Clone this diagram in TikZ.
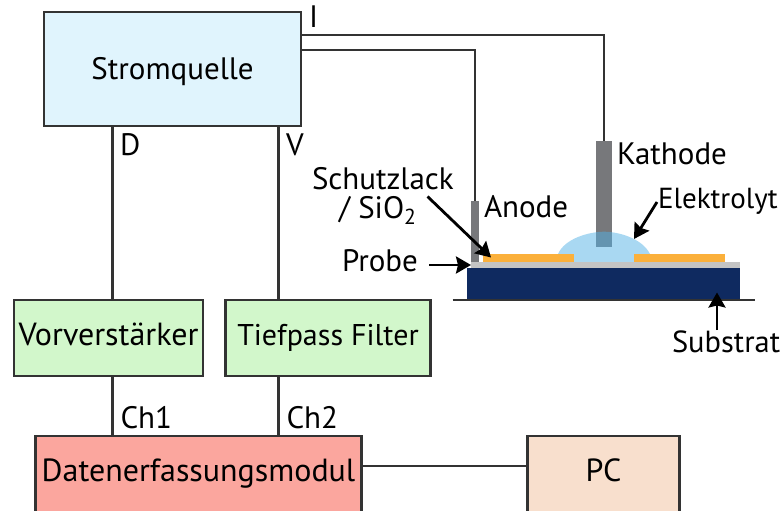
\documentclass[tikz,border=0pt]{standalone}
\usepackage{fontspec}
\setmainfont{PT Sans}
\usetikzlibrary{arrows.meta}
\definecolor{quelleblue}{HTML}{E0F4FD}
\definecolor{filtergreen}{HTML}{D2F7CB}
\definecolor{modulred}{HTML}{FBA69E}
\definecolor{pcbeige}{HTML}{F8DFCD}
\definecolor{rodgray}{HTML}{77787B}
\definecolor{probegray}{HTML}{C4C4C4}
\definecolor{subnavy}{HTML}{0F2A60}
\definecolor{lackorange}{HTML}{FBB03B}
\definecolor{dropblue}{RGB}{83,177,229}
\definecolor{linegray}{HTML}{333333}
\tikzset{
  blockbox/.style={draw=linegray,line width=2.4pt,outer sep=0pt,inner sep=0pt,align=center,text depth=6pt,text height=20pt,font=\fontsize{32}{36}\selectfont},
  lab/.style={anchor=base west,inner sep=0pt,outer sep=0pt},
  wire/.style={draw=linegray,line width=2.2pt},
  pointer/.style={draw=black,line width=2.8pt,-{Stealth[length=15pt,width=17pt,inset=2pt]}},
  rod/.style={fill=rodgray,inner sep=0pt,outer sep=0pt}
}
\begin{document}
\begin{tikzpicture}[x=1pt,y=-1pt,font=\fontsize{31}{35}\selectfont]
  \clip (0,0) rectangle (784,511);
  % blocks
  \node[blockbox,fill=quelleblue,minimum width=257pt,minimum height=114pt,text depth=0pt,text height=22pt,font=\fontsize{31}{35}\selectfont] (quelle) at (172.5,69) {Stromquelle};
  \node[blockbox,fill=filtergreen,minimum width=189pt,minimum height=76pt] (vor) at (108.5,338) {Vorverstärker};
  \node[blockbox,fill=filtergreen,minimum width=205pt,minimum height=76pt,font=\fontsize{30}{34}\selectfont] (tief) at (328,338) {Tiefpass Filter};
  \node[blockbox,fill=modulred,minimum width=326pt,minimum height=80pt,text depth=10pt] (modul) at (198.5,476) {Datenerfassungsmodul};
  \node[blockbox,fill=pcbeige,minimum width=152pt,minimum height=80pt,text depth=10pt] (pc) at (603.5,476) {PC};
  % cell
  \node[rod,minimum width=8pt,minimum height=61pt] (anode) at (475,231.5) {};
  \node[rod,minimum width=16pt,minimum height=106pt] (kathode) at (604,194) {};
  \fill[dropblue,fill opacity=0.5] (558,254) .. controls (565,238) and (590,231.7) .. (604,231.7) .. controls (618,231.7) and (642,238) .. (650,254) -- (634,254) -- (634,262) -- (574,262) -- (574,254) -- cycle;
  \fill[lackorange] (483,254) rectangle (574,262);
  \fill[lackorange] (634,254) rectangle (725,262);
  \fill[probegray] (470.5,262) rectangle (740,268);
  \fill[subnavy] (467,268) rectangle (740,299.5);
  \draw[wire] (452.5,300) -- (755,300);
  % wires
  \coordinate (iout) at (301,35);
  \coordinate (aout) at (301,50);
  \coordinate (dout) at (112.5,126);
  \coordinate (vout) at (278.5,126);
  \draw[wire] (iout) -- (kathode.north |- iout) -- (kathode.north);
  \draw[wire] (aout) -- (anode.north |- aout) -- (anode.north);
  \draw[wire] (dout) -- (dout |- vor.north);
  \draw[wire] (vout) -- (vout |- tief.north);
  \draw[wire] (dout |- vor.south) -- (dout |- modul.north);
  \draw[wire] (vout |- tief.south) -- (vout |- modul.north);
  \draw[wire,line width=2.8pt] (modul.east |- 0,466) -- (pc.west |- 0,466);
  % labels
  \node[lab] (li) at (309,28) {I};
  \node[lab] (ld) at (120,155) {D};
  \node[lab] (lv) at (286,155) {V};
  \node[lab] (lch1) at (120.5,428) {Ch1};
  \node[lab] (lch2) at (286.5,428) {Ch2};
  \node[lab] (lkath) at (617,164) {Kathode};
  \node[lab] (lanode) at (484,217) {Anode};
  \node[lab,font=\fontsize{29}{33}\selectfont] (lelek) at (658,208) {Elektrolyt};
  \node[lab] (lschutz) at (312,189) {Schutzlack};
  \node[lab] (lsio) at (339,218) {/ SiO\textsubscript{2}};
  \node[lab] (lprobe) at (342,271) {Probe};
  \node[lab,font=\fontsize{30.5}{34}\selectfont] (lsub) at (672,352) {Substrat};
  % pointers
  \coordinate (pa) at (427.5,196.5);
  \coordinate (pb) at (491,257.5);
  \coordinate (pc1) at (429,265);
  \coordinate (pc2) at (471,265);
  \coordinate (pd) at (657,202);
  \coordinate (pe) at (634,239);
  \coordinate (pf) at (717,330);
  \coordinate (pg) at (717,292.5);
  \draw[pointer] (pa) -- (pb);
  \draw[pointer] (pc1) -- (pc2);
  \draw[pointer] (pd) -- (pe);
  \draw[pointer] (pf) -- (pg);
\end{tikzpicture}
\end{document}
